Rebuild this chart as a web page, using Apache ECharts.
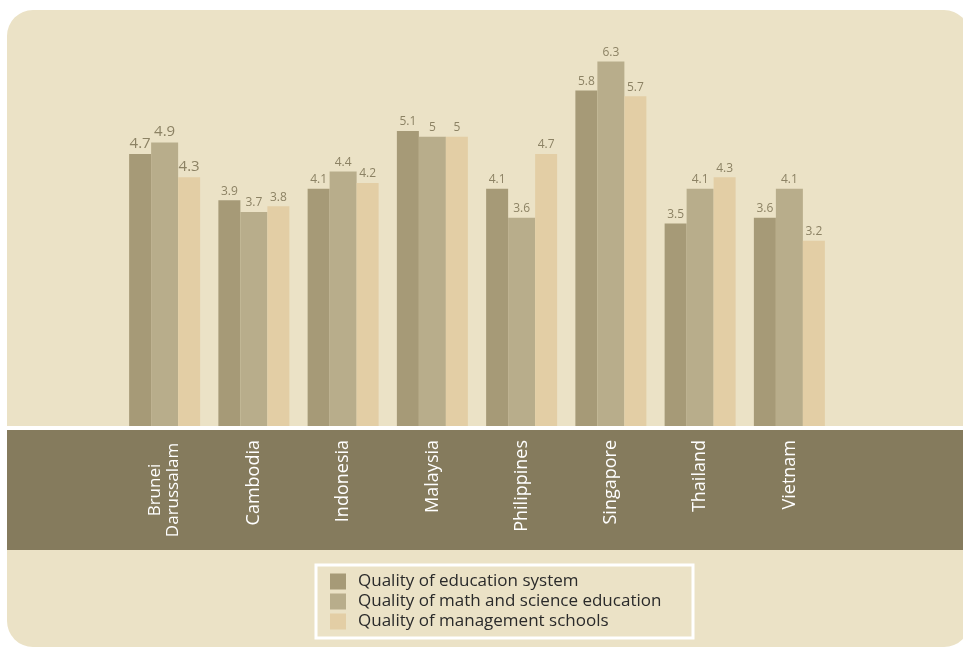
<!DOCTYPE html>
<html>
<head>
<meta charset="utf-8">
<script src="https://cdn.jsdelivr.net/npm/echarts@6/dist/echarts.min.js"></script>
<style>
  html, body { margin: 0; padding: 0; background: #ffffff; }
  #chart { width: 963px; height: 647px; }
</style>
</head>
<body>
<div id="chart"></div>
<script>
// ASEAN education quality scores
const countries = ['Brunei\nDarussalam', 'Cambodia', 'Indonesia', 'Malaysia', 'Philippines', 'Singapore', 'Thailand', 'Vietnam'];
const seriesNames = ['Quality of education system', 'Quality of math and science education', 'Quality of management schools'];
const educationSystem = [4.7, 3.9, 4.1, 5.1, 4.1, 5.8, 3.5, 3.6];
const mathScience = [4.9, 3.7, 4.4, 5.0, 3.6, 6.3, 4.1, 4.1];
const managementSchools = [4.3, 3.8, 4.2, 5.0, 4.7, 5.7, 4.3, 3.2];

const colors = ['#a69a77', '#b8ad8b', '#e3cea5'];
const labelColor = '#8c8264';
const fontFamily = '"Open Sans", "Noto Sans", sans-serif';

function barSeries(name, values, color, width) {
  return {
    name: name,
    type: 'bar',
    barWidth: width,
    barGap: 0,
    barCategoryGap: 0,
    itemStyle: { color: color },
    label: {
      show: true,
      position: 'top',
      distance: 3,
      color: labelColor,
      fontFamily: fontFamily,
      fontSize: 12,
      formatter: p => String(p.value)
    },
    // the first country group carries larger value labels
    data: values.map((v, i) => i === 0
      ? { value: v, label: { fontSize: 15 } }
      : v)
  };
}

const chart = echarts.init(document.getElementById('chart'), null, { renderer: 'canvas' });

chart.setOption({
  backgroundColor: '#ffffff',
  animation: false,
  graphic: [
    { type: 'rect', z: -10, shape: { x: 7, y: 10, width: 963, height: 637, r: 26 },
      style: { fill: '#ebe2c6' }, silent: true },
    { type: 'rect', z: -9, shape: { x: 7, y: 426, width: 960, height: 4 },
      style: { fill: '#ffffff' }, silent: true },
    { type: 'rect', z: -9, shape: { x: 7, y: 430, width: 960, height: 120 },
      style: { fill: '#857b5d' }, silent: true },
    { type: 'rect', z: -8, shape: { x: 316, y: 565, width: 377, height: 73 },
      style: { fill: 'none', stroke: '#ffffff', lineWidth: 3 }, silent: true }
  ],
  grid: { left: 120, width: 714, top: 21, height: 405, containLabel: false },
  xAxis: {
    type: 'category',
    data: countries,
    axisLine: { show: false },
    axisTick: { show: false },
    axisLabel: {
      rotate: 90,
      margin: 14,
      color: '#ffffff',
      fontFamily: fontFamily,
      fontSize: 18,
      lineHeight: 18,
      formatter: v => v.indexOf('\n') >= 0
        ? v.split('\n').map(s => '{c|' + s + '}').join('\n')
        : v,
      rich: {
        c: { width: 100, align: 'center', color: '#ffffff', fontFamily: fontFamily, fontSize: 17, lineHeight: 18 }
      }
    }
  },
  yAxis: {
    type: 'value',
    min: 0,
    max: 7,
    show: false,
    splitLine: { show: false }
  },
  legend: {
    orient: 'vertical',
    left: 325,
    top: 568,
    itemWidth: 16,
    itemHeight: 16,
    itemGap: 3,
    icon: 'rect',
    selectedMode: false,
    data: seriesNames,
    textStyle: {
      color: '#2a2a2a',
      fontFamily: fontFamily,
      fontSize: 17,
      padding: [0, 0, 0, 7]
    }
  },
  series: [
    barSeries(seriesNames[0], educationSystem, colors[0], 22),
    barSeries(seriesNames[1], mathScience, colors[1], 27),
    barSeries(seriesNames[2], managementSchools, colors[2], 22)
  ]
});
</script>
</body>
</html>
